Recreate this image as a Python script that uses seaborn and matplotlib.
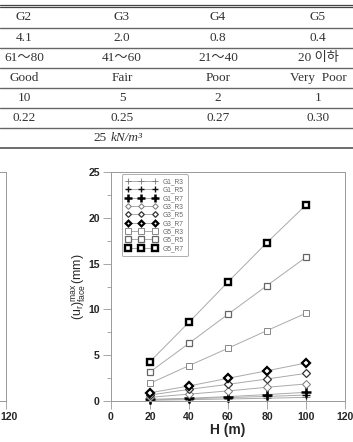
import matplotlib
matplotlib.use('Agg')
import matplotlib.pyplot as plt
import matplotlib.transforms as mtransforms
import seaborn as sns
import numpy as np
import pandas as pd
from matplotlib.ticker import MultipleLocator

# ---------------- data ----------------
heights = [20, 40, 60, 80, 100]
G1_R3 = [0.08, 0.15, 0.22, 0.30, 0.40]
G1_R5 = [0.12, 0.25, 0.37, 0.50, 0.65]
G1_R7 = [0.18, 0.30, 0.48, 0.70, 0.95]
G3_R3 = [0.40, 0.75, 1.10, 1.50, 1.86]
G3_R5 = [0.65, 1.27, 1.82, 2.40, 3.02]
G3_R7 = [0.90, 1.64, 2.48, 3.30, 4.15]
G5_R3 = [1.93, 3.86, 5.76, 7.69, 9.58]
G5_R5 = [3.17, 6.30, 9.47, 12.6, 15.7]
G5_R7 = [4.30, 8.60, 13.0, 17.3, 21.4]
series_names = ['G1_R3', 'G1_R5', 'G1_R7', 'G3_R3', 'G3_R5', 'G3_R7',
                'G5_R3', 'G5_R5', 'G5_R7']
series_values = [G1_R3, G1_R5, G1_R7, G3_R3, G3_R5, G3_R7, G5_R3, G5_R5, G5_R7]
x_ticks = [0, 20, 40, 60, 80, 100, 120]
y_ticks = [0, 5, 10, 15, 20, 25]

table_header = ['G2', 'G3', 'G4', 'G5']
table_row1 = ['4.1', '2.0', '0.8', '0.4']
table_row2 = ['61\uff5e80', '41\uff5e60', '21\uff5e40', '20 \uc774\ud558']
table_row3 = ['Good', 'Fair', 'Poor', 'Very  Poor']
table_row4 = ['10', '5', '2', '1']
table_row5 = ['0.22', '0.25', '0.27', '0.30']
unit_value = '25'
unit_text = 'kN/m\u00b3'

# ---------------- style ----------------
sns.set_style('ticks')
plt.rcParams['font.family'] = ['Liberation Sans', 'DejaVu Sans']
plt.rcParams['mathtext.fontset'] = 'custom'
plt.rcParams['mathtext.rm'] = 'Liberation Sans'
plt.rcParams['mathtext.it'] = 'Liberation Sans:italic'
plt.rcParams['mathtext.bf'] = 'Liberation Sans:bold'

W, H = 353, 442
fig = plt.figure(figsize=(W / 100, H / 100), dpi=100)
fig.patch.set_facecolor('white')

def fy(py):
    return 1 - py / H

# ---------------- table (overlay in pixel coords) ----------------
over = fig.add_axes([0, 0, 1, 1])
over.set_xlim(0, W)
over.set_ylim(H, 0)
over.axis('off')
tfam = ['Liberation Serif', 'Noto Sans CJK KR', 'DejaVu Sans']
over.plot([0, W], [5.2, 5.2], color='#444', lw=0.9)
over.plot([0, W], [7.4, 7.4], color='#444', lw=0.9)
for yl in [28.3, 48.3, 67.8, 87.8, 107.8, 127.8]:
    over.plot([0, W], [yl, yl], color='#666', lw=1.0)
over.plot([0, W], [147.8, 147.8], color='#444', lw=1.1)
col_x = [24, 122, 218, 318]
row_y = [17, 38, 58, 78, 98, 118]
rows = [table_header, table_row1, table_row2, table_row3, table_row4, table_row5]
for ry, row in zip(row_y, rows):
    for cx, txt in zip(col_x, row):
        over.text(cx, ry, txt, ha='center', va='center', fontsize=9.5,
                  family=tfam, color='#333')
over.text(107, 138, unit_value, ha='right', va='center', fontsize=9.5,
          family=tfam, color='#333')
over.text(111, 138, unit_text, ha='left', va='center', fontsize=9.5,
          family=tfam, style='italic', color='#333')

# ---------------- main chart ----------------
ax_left, ax_right, ax_top, ax_bot = 111, 345, 172, 401
pos = [ax_left / W, fy(ax_bot), (ax_right - ax_left) / W, (ax_bot - ax_top) / H]
ax = fig.add_axes(pos)

styles = {
    'G1_R3': dict(marker='+', ms=6.0, mew=0.6, mec='#777', mfc='none'),
    'G1_R5': dict(marker='+', ms=6.0, mew=1.0, mec='#111', mfc='none'),
    'G1_R7': dict(marker='+', ms=6.5, mew=1.8, mec='black', mfc='none'),
    'G3_R3': dict(marker='D', ms=3.6, mew=0.7, mec='#777', mfc='white'),
    'G3_R5': dict(marker='D', ms=3.6, mew=0.9, mec='#333', mfc='white'),
    'G3_R7': dict(marker='D', ms=3.6, mew=1.6, mec='black', mfc='white'),
    'G5_R3': dict(marker='s', ms=4.6, mew=0.7, mec='#888', mfc='white'),
    'G5_R5': dict(marker='s', ms=4.6, mew=0.9, mec='#666', mfc='white'),
    'G5_R7': dict(marker='s', ms=4.6, mew=1.7, mec='black', mfc='white'),
}
for name, vals in zip(series_names, series_values):
    sns.lineplot(x=heights, y=vals, ax=ax, color='#aaa', lw=0.7,
                 label=name, errorbar=None, clip_on=False, **styles[name])

ax.set_xlim(0, 120)
ax.set_ylim(0, 25)
ax.set_xticks(x_ticks)
ax.set_yticks(y_ticks)
ax.yaxis.set_minor_locator(MultipleLocator(2.5))
ax.tick_params(axis='both', which='major', direction='out', length=5.5,
               width=0.6, color='#999', labelsize=7.6, pad=2.5)
ax.tick_params(axis='y', which='minor', direction='out', length=3,
               width=0.6, color='#999')
for lbl in ax.get_xticklabels() + ax.get_yticklabels():
    lbl.set_fontweight('bold')
for s in ax.spines.values():
    s.set_color('#999')
    s.set_linewidth(0.7)
ax.set_xlabel('H (m)', fontsize=10, fontweight='bold', labelpad=0.5)
ax.set_ylabel(r'$(\mathrm{u_r})^{\mathrm{max}}_{\mathrm{face}}\,(\mathrm{mm})$',
              fontsize=8.8, labelpad=0.5)

leg = ax.legend(loc='upper left', bbox_to_anchor=(0.047, 0.99), borderaxespad=0,
                numpoints=3, handlelength=4.6, handletextpad=0.9, fontsize=4.8,
                labelspacing=0.2, borderpad=0.6, frameon=True, fancybox=True,
                edgecolor='#999', markerscale=0.8, labelcolor='#666')
leg.get_frame().set_linewidth(0.7)

# ---------------- partial neighbouring chart at left edge ----------------
w_ax = (ax_right - ax_left) / W
ax2 = fig.add_axes([(6 - (ax_right - ax_left)) / W, fy(ax_bot), w_ax, (ax_bot - ax_top) / H])
ax2.set_xlim(0, 120)
ax2.set_ylim(0, 25)
ax2.set_xticks(x_ticks)
ax2.set_xticklabels(['' for _ in x_ticks[:-1]] + [str(x_ticks[-1])])
ax2.set_yticks([])
ax2.tick_params(axis='x', which='major', direction='out', length=5.5,
                width=0.6, color='#999', labelsize=7.6, pad=2.5)
shift = mtransforms.ScaledTranslation(-6 / 100, 0, fig.dpi_scale_trans)
for lbl in ax2.get_xticklabels():
    lbl.set_fontweight('bold')
    lbl.set_horizontalalignment('left')
    lbl.set_transform(lbl.get_transform() + shift)
for s in ax2.spines.values():
    s.set_color('#999')
    s.set_linewidth(0.7)

fig.savefig('out.png', dpi=100, facecolor='white')
